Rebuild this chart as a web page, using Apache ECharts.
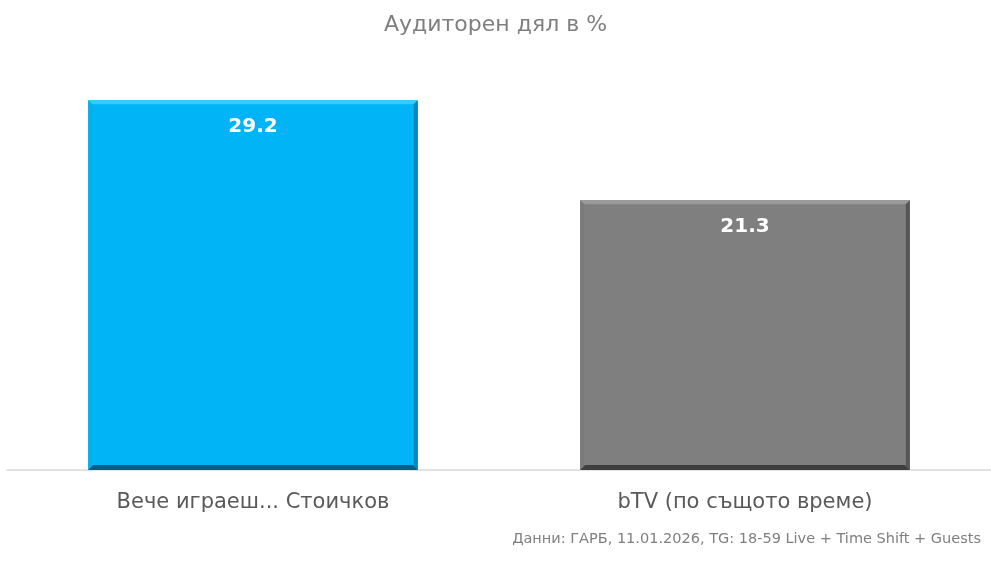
<!DOCTYPE html>
<html>
<head>
<meta charset="utf-8">
<script src="https://cdn.jsdelivr.net/npm/echarts@6/dist/echarts.min.js"></script>
<style>
  html, body { margin: 0; padding: 0; background: #fff; }
  #chart { width: 991px; height: 566px; }
</style>
</head>
<body>
<div id="chart"></div>
<script>
// данни
var categories = ['Вече играеш... Стоичков', 'bTV (по същото време)'];
var shareValues = [29.2, 21.3];
var barColors = [
  { face: '#00B4F5', top: '#33CCFF', left: '#0AAFEA', right: '#0A86BA', bottom: '#075E86' },
  { face: '#7F7F7F', top: '#9A9A9A', left: '#7A7A7A', right: '#555555', bottom: '#3E3E3E' }
];

var chart = echarts.init(document.getElementById('chart'));

function renderBevelBar(params, api) {
  var idx = api.value(0);
  var val = api.value(1);
  var top = api.coord([idx, val]);
  var base = api.coord([idx, 0]);
  var w = api.size([1, 0])[0] * 0.67;
  var x0 = top[0] - w / 2, x1 = top[0] + w / 2;
  var y0 = top[1], y1 = base[1];
  var b = 4;
  var c = barColors[idx];
  return {
    type: 'group',
    children: [
      { type: 'rect', shape: { x: x0, y: y0, width: w, height: y1 - y0 }, style: { fill: c.face } },
      { type: 'polygon', shape: { points: [[x0, y0], [x1, y0], [x1 - b, y0 + b], [x0 + b, y0 + b]] }, style: { fill: c.top } },
      { type: 'polygon', shape: { points: [[x0, y0], [x0 + b, y0 + b], [x0 + b, y1 - b], [x0, y1]] }, style: { fill: c.left } },
      { type: 'polygon', shape: { points: [[x1, y0], [x1, y1], [x1 - b, y1 - b], [x1 - b, y0 + b]] }, style: { fill: c.right } },
      { type: 'polygon', shape: { points: [[x0, y1], [x1, y1], [x1 - b - 1, y1 - b - 1], [x0 + b + 1, y1 - b - 1]] }, style: { fill: c.bottom } },
      {
        type: 'text',
        style: {
          x: top[0], y: y0 + 27, text: String(val),
          fill: '#fff', font: 'bold 20px "DejaVu Sans", sans-serif',
          align: 'center', verticalAlign: 'middle'
        }
      }
    ]
  };
}

var option = {
  animation: false,
  title: {
    text: 'Аудиторен дял в %',
    left: 'center',
    top: 9,
    textStyle: { color: '#7F7F7F', fontSize: 22, fontWeight: 'normal', fontFamily: 'DejaVu Sans' }
  },
  grid: { left: 7, right: 0, top: 90, bottom: 96 },
  xAxis: {
    type: 'category',
    data: categories,
    axisTick: { show: false },
    axisLine: { lineStyle: { color: '#D9D9D9', width: 1.5 } },
    axisLabel: { color: '#595959', fontSize: 21, fontFamily: 'DejaVu Sans', margin: 22 }
  },
  yAxis: {
    type: 'value',
    min: 0,
    max: 30,
    show: false,
    splitLine: { show: false }
  },
  series: [
    {
      type: 'custom',
      renderItem: renderBevelBar,
      data: shareValues.map(function (v, i) { return [i, v]; }),
      encode: { x: 0, y: 1 }
    }
  ],
  graphic: [
    {
      type: 'text',
      right: 10,
      top: 532,
      style: {
        text: 'Данни: ГАРБ, 11.01.2026, TG: 18-59 Live + Time Shift + Guests',
        fill: '#7F7F7F',
        font: '14.5px "DejaVu Sans"'
      }
    }
  ]
};

chart.setOption(option);
</script>
</body>
</html>
